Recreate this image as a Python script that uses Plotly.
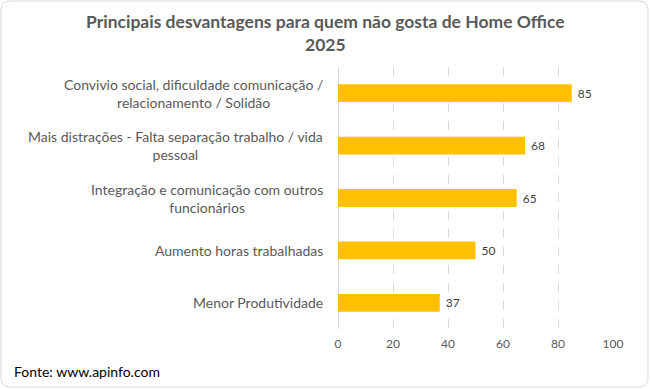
import plotly.graph_objects as go

categories = [
    "Menor Produtividade",
    "Aumento horas trabalhadas",
    "Integração e comunicação com outros<br>funcionários",
    "Mais distrações - Falta separação trabalho / vida<br>pessoal",
    "Convivio social, dificuldade comunicação /<br>relacionamento / Solidão",
]
values = [37, 50, 65, 68, 85]
x_ticks = [0, 20, 40, 60, 80, 100]

W, H = 650, 389
L, R, T, B = 338, 37, 67, 60
FONT = "Lato"
GRAY = "#595959"

pw, ph = W - L - R, H - T - B
def px(x):
    return (x - L) / pw
def py(y):
    return (H - B - y) / ph

fig = go.Figure(go.Bar(
    y=list(range(len(categories))), x=values, orientation="h",
    marker=dict(color="#FFC000", line=dict(width=0)),
    text=[f" {v}" for v in values], textposition="outside",
    textfont=dict(family=FONT, size=12, color="#404040"),
    cliponaxis=False, width=0.34,
))

annotations = []
for i, c in enumerate(categories):
    annotations.append(dict(
        x=px(325), xref="paper", y=i, yref="y",
        text=c, showarrow=False, xanchor="right", yanchor="middle", align="center",
        font=dict(family=FONT, size=14, color=GRAY),
    ))
annotations.append(dict(
    x=px(325), xref="paper", y=py(33), yref="paper",
    text="<b>Principais desvantagens para quem não gosta de Home Office<br>2025</b>",
    showarrow=False, xanchor="center", yanchor="middle", align="center",
    font=dict(family=FONT, size=17.5, color=GRAY),
))
annotations.append(dict(
    x=px(12), xref="paper", y=py(371), yref="paper", text="Fonte: www.apinfo.com",
    showarrow=False, xanchor="left", yanchor="middle",
    font=dict(family=FONT, size=14, color="#000000"),
))

x0, x1, y0, y1, r = 1, 648, 1, 387, 9
path = (f"M {px(x0+r)} {py(y0)} L {px(x1-r)} {py(y0)} Q {px(x1)} {py(y0)} {px(x1)} {py(y0+r)} "
        f"L {px(x1)} {py(y1-r)} Q {px(x1)} {py(y1)} {px(x1-r)} {py(y1)} "
        f"L {px(x0+r)} {py(y1)} Q {px(x0)} {py(y1)} {px(x0)} {py(y1-r)} "
        f"L {px(x0)} {py(y0+r)} Q {px(x0)} {py(y0)} {px(x0+r)} {py(y0)} Z")

fig.update_layout(
    width=W, height=H, margin=dict(l=L, r=R, t=T, b=B),
    paper_bgcolor="white", plot_bgcolor="white", showlegend=False,
    annotations=annotations,
    shapes=[dict(type="path", path=path, xref="paper", yref="paper",
                 line=dict(color="#D9D9D9", width=1), layer="below")],
    xaxis=dict(range=[0, 100], tickvals=x_ticks, showgrid=True, gridcolor="#D9D9D9",
               griddash="dash", gridwidth=1, zeroline=True, zerolinecolor="#D9D9D9",
               zerolinewidth=1, showline=False, ticks="",
               tickfont=dict(family=FONT, size=12, color=GRAY), ticklabelstandoff=6),
    yaxis=dict(range=[-0.5, len(categories) - 0.5], showticklabels=False, showgrid=False,
               zeroline=False, showline=False),
)
fig.write_html("out.html", config={"displayModeBar": False},
               post_script="document.body.style.margin='0';document.body.style.overflow='hidden';")
